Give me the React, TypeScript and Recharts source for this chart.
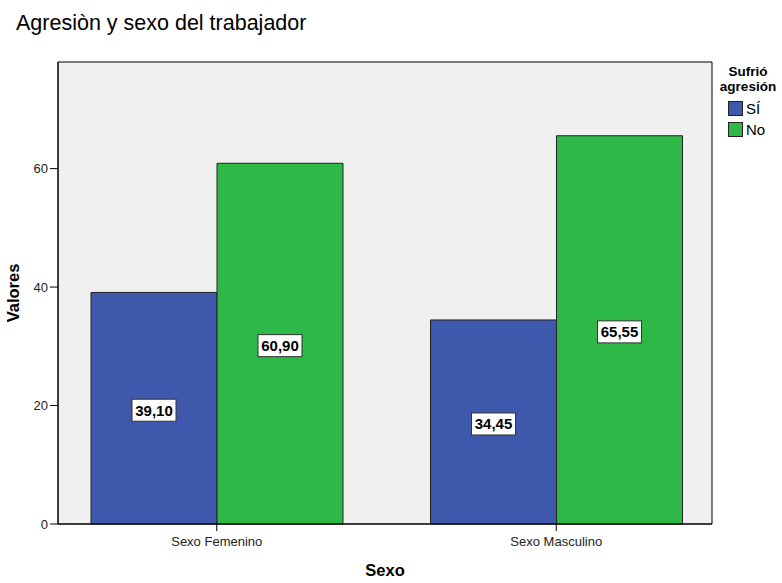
import React from "react";
import { BarChart, Bar, XAxis, YAxis, CartesianGrid, LabelList, Label } from "recharts";

const categories = ["Sexo Femenino", "Sexo Masculino"];
const siValues = [39.1, 34.45];
const noValues = [60.9, 65.55];
const yTicks = [0, 20, 40, 60];
const seriesNames = ["SÍ", "No"];
const legendTitle = ["Sufrió", "agresión"];

const data = categories.map((c, i) => ({ cat: c, si: siValues[i], no: noValues[i] }));

const BLUE = "#3E58AC";
const GREEN = "#2EB848";
const FONT = "'Liberation Sans', Arial, sans-serif";

const fmt = (v: number) => v.toFixed(2).replace(".", ",");

const BoxLabel = (props: any) => {
  const { x, y, width, height, value } = props;
  const cx = x + width / 2;
  const cy = y + height / 2 + 2;
  const w = 44;
  const h = 22;
  return (
    <g>
      <rect x={cx - w / 2} y={cy - h / 2} width={w} height={h} fill="#fff" stroke="#333" strokeWidth={1} />
      <text x={cx} y={cy + 5.5} textAnchor="middle" fontFamily={FONT} fontWeight="bold" fontSize={15} fill="#000">
        {fmt(value)}
      </text>
    </g>
  );
};

export default function App() {
  const colors = [BLUE, GREEN];
  return (
    <div style={{ position: "absolute", left: 0, top: 0, width: 782, height: 583, background: "#fff", fontFamily: FONT }}>
      <div style={{ position: "absolute", left: 16, top: 11, fontSize: 21.5, color: "#000", whiteSpace: "nowrap" }}>
        Agresiòn y sexo del trabajador
      </div>
      <BarChart
        width={782}
        height={583}
        data={data}
        margin={{ top: 62, left: 18, right: 70, bottom: 29 }}
        barCategoryGap={44}
        barGap={0}
      >
        <CartesianGrid
          fill="#F0F0F0"
          stroke="#000"
          strokeWidth={1}
          horizontalCoordinatesGenerator={({ offset }: any) => [offset.top, offset.top + offset.height]}
          verticalCoordinatesGenerator={({ offset }: any) => [offset.left, offset.left + offset.width]}
        />
        <XAxis
          dataKey="cat"
          height={30}
          padding={{ left: -11, right: -14 }}
          axisLine={{ stroke: "#000" }}
          tickLine={{ stroke: "#000" }}
          tickSize={7}
          tickMargin={6}
          tick={{ fontSize: 13, fill: "#222", fontFamily: FONT }}
          interval={0}
        >
          <Label value="Sexo" position="insideBottom" offset={-22} style={{ fontSize: 16.5, fontWeight: "bold", fill: "#000", fontFamily: FONT }} />
        </XAxis>
        <YAxis
          width={40}
          type="number"
          domain={[0, 78]}
          ticks={yTicks}
          axisLine={{ stroke: "#000" }}
          tickLine={{ stroke: "#000" }}
          tickSize={8}
          tickMargin={2}
          tick={{ fontSize: 13, fill: "#222", fontFamily: FONT }}
        >
          <Label value="Valores" angle={-90} position="insideLeft" offset={-5} style={{ fontSize: 16.5, fontWeight: "bold", fill: "#000", fontFamily: FONT, textAnchor: "middle" }} />
        </YAxis>
        <Bar dataKey="si" fill={BLUE} stroke="#222" strokeWidth={1} isAnimationActive={false}>
          <LabelList dataKey="si" content={BoxLabel} />
        </Bar>
        <Bar dataKey="no" fill={GREEN} stroke="#222" strokeWidth={1} isAnimationActive={false}>
          <LabelList dataKey="no" content={BoxLabel} />
        </Bar>
      </BarChart>
      <div style={{ position: "absolute", left: 708, top: 64, width: 80, textAlign: "center", fontSize: 13.5, fontWeight: "bold", lineHeight: "15px", color: "#000" }}>
        {legendTitle.map((t) => (
          <div key={t}>{t}</div>
        ))}
      </div>
      {seriesNames.map((n, i) => (
        <div key={n} style={{ position: "absolute", left: 728, top: 100 + i * 21, display: "flex", alignItems: "center" }}>
          <div style={{ width: 13, height: 13, background: colors[i], border: "1px solid #222" }} />
          <span style={{ marginLeft: 3, fontSize: 15, color: "#000" }}>{n}</span>
        </div>
      ))}
    </div>
  );
}
